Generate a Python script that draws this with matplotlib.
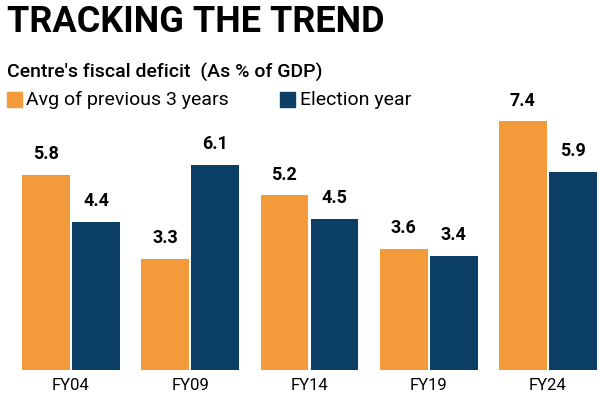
import matplotlib.pyplot as plt
import numpy as np

years = ['FY04', 'FY09', 'FY14', 'FY19', 'FY24']
avg_prev3 = [5.8, 3.3, 5.2, 3.6, 7.4]
election = [4.4, 6.1, 4.5, 3.4, 5.9]

orange = '#F39A3A'
navy = '#0B3F66'

fig = plt.figure(figsize=(5.99, 4.0), dpi=100)
ax = fig.add_axes([0.0, 0.075, 1.0, 0.65])

x = np.arange(len(years))
w = 0.40
b1 = ax.bar(x - 0.21, avg_prev3, w, color=orange)
b2 = ax.bar(x + 0.21, election, w, color=navy)
for bars in (b1, b2):
    for r in bars:
        ax.text(r.get_x() + r.get_width() / 2, r.get_height() + 0.35, f'{r.get_height():.1f}',
                ha='center', va='bottom', fontsize=13, fontweight='bold', family='Roboto')

ax.set_xlim(-0.595, 4.428)
ax.set_ylim(0, 7.74)
ax.set_xticks(x)
ax.set_xticklabels(years, fontsize=12, family='Roboto')
ax.tick_params(axis='x', length=0, pad=6)
ax.set_yticks([])
for s in ax.spines.values():
    s.set_visible(False)

fig.text(0.012, 0.99, 'TRACKING THE TREND', fontsize=26, fontweight='bold',
         family='Roboto', va='top', ha='left')
fig.text(0.012, 0.82, "Centre's fiscal deficit  (As % of GDP)", fontsize=14,
         fontweight='medium', family='Roboto', va='center', ha='left')
fig.patches.append(plt.Rectangle((0.012, 0.733), 0.024, 0.036, color=orange, transform=fig.transFigure))
fig.text(0.043, 0.75, 'Avg of previous 3 years', fontsize=14, family='Roboto', va='center')
fig.patches.append(plt.Rectangle((0.468, 0.733), 0.024, 0.036, color=navy, transform=fig.transFigure))
fig.text(0.5, 0.75, 'Election year', fontsize=14, family='Roboto', va='center')

fig.savefig('out.png', dpi=100)
